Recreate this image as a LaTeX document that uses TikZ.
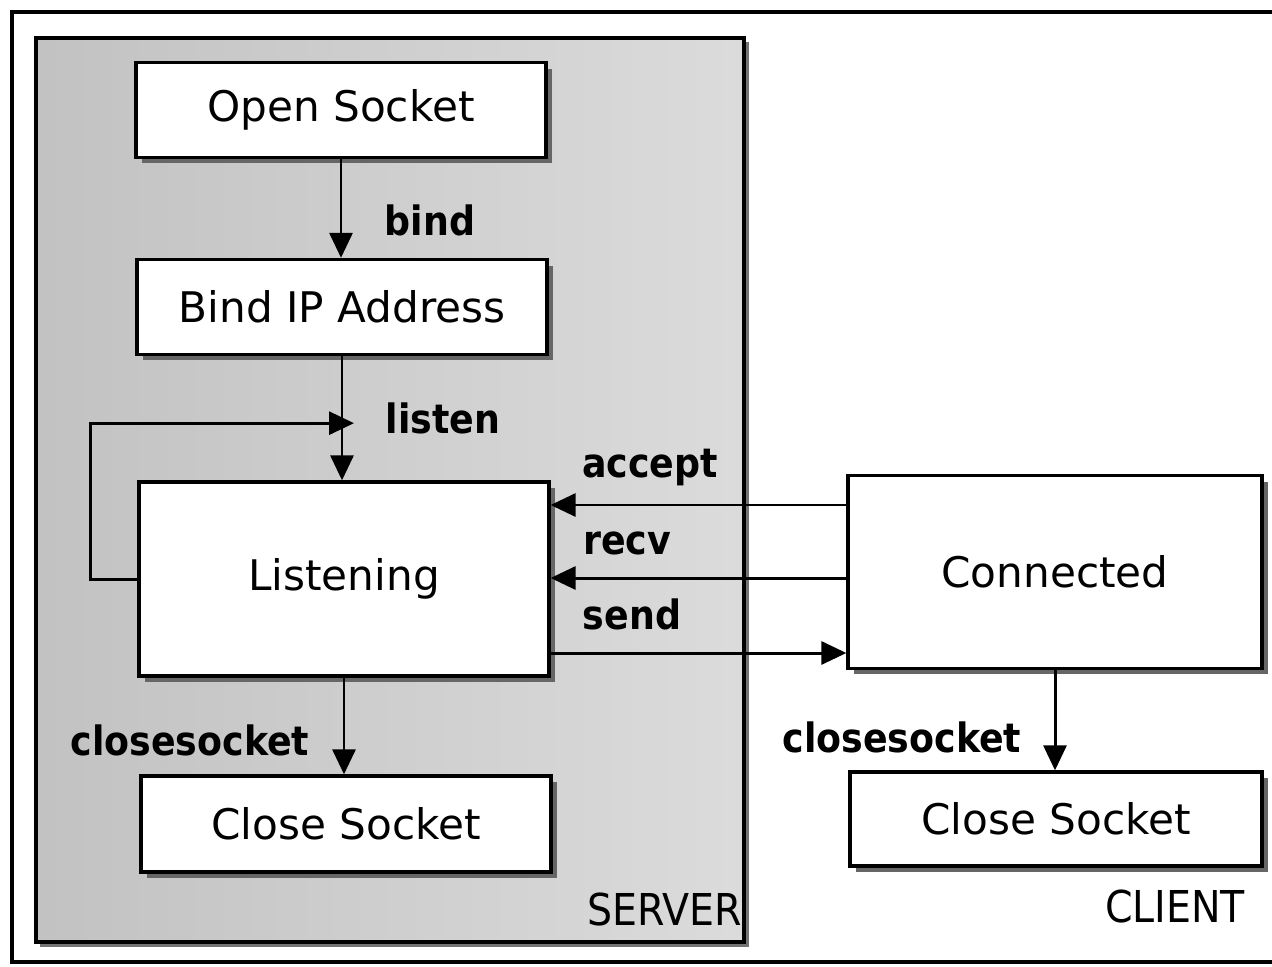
\documentclass[tikz,border=0pt]{standalone}
\usepackage{fontspec}
\setmainfont{DejaVu Sans}
\newfontfamily\lblfont{DejaVu Sans Condensed}
\usetikzlibrary{arrows.meta,shadows,calc}
\begin{document}
\begin{tikzpicture}[x=0.02cm,y=-0.02cm,
  box/.style={draw=black,line width=1.9pt,fill=white,minimum width=8.2cm,inner sep=0pt,
    font=\fontsize{24}{28}\selectfont,
    drop shadow={shadow xshift=0.12cm,shadow yshift=-0.12cm,fill=black!60,opacity=1}},
  lbl/.style={font=\lblfont\bfseries\fontsize{23}{27}\selectfont,inner sep=0pt},
  side/.style={font=\lblfont\fontsize{25}{29}\selectfont,inner sep=0pt},
  arr/.style={line width=1.7pt,-{Triangle[length=0.5cm,width=0.46cm]}},
  ln/.style={line width=1.7pt}]
\useasboundingbox (0,0) rectangle (1272,967);
\draw[line width=2pt] (1290,12) -- (12,12) -- (12,962) -- (1290,962);
\fill[black!55] (40,942) rectangle (748,947);
\fill[black!55] (744,42) rectangle (749,947);
\draw[line width=1.8pt,left color=black!24,right color=black!14] (36,38) rectangle (744,942);
% boxes
\node[box,minimum height=1.9cm] (open) at (341,110) {Open Socket};
\node[box,minimum height=1.9cm] (bind) at (342,307) {Bind IP Address};
\node[box,minimum height=3.88cm] (L) at (344,579) {Listening};
\node[box,minimum height=1.92cm] (cs1) at (346,824) {Close Socket};
\node[box,minimum height=3.86cm,minimum width=8.28cm] (C) at (1055,572) {Connected};
\node[box,minimum height=1.88cm,minimum width=8.24cm] (cs2) at (1056,819) {Close Socket};
% labels
\node[lbl] (lbind) at (430,220) {bind};
\node[lbl] (llisten) at (443,418) {listen};
\node[lbl] (laccept) at (650,468) {accept};
\node[lbl] (lrecv) at (627,543) {recv};
\node[lbl] (lsend) at (632,614) {send};
\node[lbl] (lclose1) at (190,740) {closesocket};
\node[lbl] (lclose2) at (902,737) {closesocket};
\node[side] (server) at (665,910) {SERVER};
\node[side] (client) at (1175,907) {CLIENT};
% connectors
\draw[arr] (open.south) -- (open.south |- bind.north);
\draw[arr] (bind.south) -- (bind.south |- L.north);
\coordinate (lp) at ($(bind.south)+(0,67)$);
\draw[arr] (L.west) -- ++(-47,0) |- ($(lp)+(12,0)$);
\coordinate (a1) at ($(C.west)+(0,-67)$);
\draw[arr] (a1) -- (a1 -| L.east);
\coordinate (r1) at ($(C.west)+(0,6)$);
\draw[arr] (r1) -- (r1 -| L.east);
\coordinate (s1) at ($(L.east)+(0,74)$);
\draw[arr] (s1) -- (s1 -| C.west);
\draw[arr] (L.south) -- (L.south |- cs1.north);
\draw[arr] (C.south) -- (C.south |- cs2.north);
\end{tikzpicture}
\end{document}
